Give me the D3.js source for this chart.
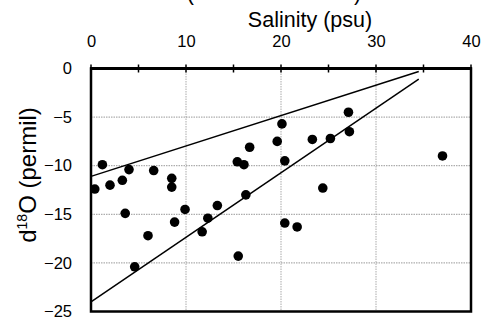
<!DOCTYPE html>
<html>
<head>
<meta charset="utf-8">
<script src="https://cdn.jsdelivr.net/npm/d3@7"></script>
<style>
  html, body { margin: 0; padding: 0; background: #fff; }
  svg { display: block; }
  text { font-family: "Liberation Sans", Arial, Helvetica, sans-serif; fill: #000; }
</style>
</head>
<body>
<svg id="chart" width="489" height="322"></svg>
<script>
// ---- data ----
const salinity = [0.4, 1.2, 2.0, 3.3, 3.6, 4.0, 4.6, 6.0, 6.6, 8.5, 8.5, 8.8, 9.9, 11.7, 12.3, 13.3,
                  15.4, 15.5, 16.1, 16.3, 16.7, 19.6, 20.1, 20.4, 20.4, 21.7, 23.3, 24.4, 25.2, 27.1, 27.2, 37.0];
const d18O     = [-12.4, -9.9, -12.0, -11.5, -14.9, -10.4, -20.4, -17.2, -10.5, -11.3, -12.2, -15.8, -14.5, -16.8, -15.4, -14.1,
                  -9.6, -19.3, -9.9, -13.0, -8.1, -7.5, -5.7, -9.5, -15.9, -16.3, -7.3, -12.3, -7.2, -4.5, -6.5, -9.0];
const upperLineS = [0, 34.5];
const upperLineD = [-11.1, -0.3];
const lowerLineS = [0, 34.5];
const lowerLineD = [-24.0, -1.1];
const xTicks = [0, 10, 20, 30, 40];
const xMinorTicks = [5, 15, 25, 35];
const yTicks = [0, -5, -10, -15, -20, -25];

(function () {
const svg = d3.select("#chart");
const mL = 91, mR = 471, mT = 68.5, mB = 311.5;

const x = d3.scaleLinear().domain([0, 40]).range([mL, mR]);
const y = d3.scaleLinear().domain([0, -25]).range([mT, mB]);

// gridlines
svg.append("g").selectAll("line").data([10, 20, 30]).join("line")
  .attr("x1", d => x(d)).attr("x2", d => x(d))
  .attr("y1", mT).attr("y2", mB)
  .attr("stroke", "#aaa").attr("stroke-width", 1).attr("stroke-dasharray", "1.5,1");
svg.append("g").selectAll("line").data([-5, -10, -15, -20]).join("line")
  .attr("x1", mL).attr("x2", mR)
  .attr("y1", d => y(d)).attr("y2", d => y(d))
  .attr("stroke", "#999").attr("stroke-width", 1).attr("stroke-dasharray", "1.5,1");

// mixing lines
const line = d3.line().x(d => x(d[0])).y(d => y(d[1]));
svg.append("path").datum(upperLineS.map((s, i) => [s, upperLineD[i]]))
  .attr("d", line).attr("fill", "none").attr("stroke", "#000").attr("stroke-width", 1.5);
svg.append("path").datum(lowerLineS.map((s, i) => [s, lowerLineD[i]]))
  .attr("d", line).attr("fill", "none").attr("stroke", "#000").attr("stroke-width", 1.5);

// points
svg.append("g").selectAll("circle").data(salinity.map((s, i) => [s, d18O[i]])).join("circle")
  .attr("cx", d => x(d[0])).attr("cy", d => y(d[1])).attr("r", 4.8).attr("fill", "#000");

// frame
svg.append("rect").attr("x", mL).attr("y", mT).attr("width", mR - mL).attr("height", mB - mT)
  .attr("fill", "none").attr("stroke", "#000").attr("stroke-width", 2.5);
svg.append("line").attr("x1", mL - 1).attr("x2", mR + 1).attr("y1", mT).attr("y2", mT)
  .attr("stroke", "#000").attr("stroke-width", 3);

// top axis
const xAxis = d3.axisTop(x).tickValues(xTicks).tickSize(0).tickPadding(22);
const gx = svg.append("g").attr("transform", `translate(0,${mT})`).call(xAxis);
gx.select(".domain").remove();
gx.selectAll("text").attr("font-size", 16.5).attr("font-family", "Liberation Sans, Arial, sans-serif");
svg.append("g").selectAll("line").data(xTicks.concat(xMinorTicks)).join("line")
  .attr("x1", d => x(d)).attr("x2", d => x(d))
  .attr("y1", mT - 4).attr("y2", mT + 4)
  .attr("stroke", "#000").attr("stroke-width", 1.5);

// left axis
const yAxis = d3.axisLeft(y).tickValues(yTicks).tickSize(0).tickPadding(19);
const gy = svg.append("g").attr("transform", `translate(${mL},0)`).call(yAxis);
gy.select(".domain").remove();
gy.selectAll("text").attr("font-size", 16.5).attr("font-family", "Liberation Sans, Arial, sans-serif");

// titles
svg.append("text").attr("x", 310).attr("y", 27).attr("text-anchor", "middle")
  .attr("font-size", 21.5).text("Salinity (psu)");
svg.append("text").attr("x", 274).attr("y", 0).attr("text-anchor", "middle")
  .attr("font-size", 21.5).text("(Lena River Delta)");

const yl = svg.append("text").attr("transform", "translate(36,175) rotate(-90)")
  .attr("text-anchor", "middle").attr("font-size", 24);
yl.append("tspan").text("d");
yl.append("tspan").attr("font-size", 14).attr("dy", -9).text("18");
yl.append("tspan").attr("dy", 9).text("O (permil)");
})();
</script>
</body>
</html>
